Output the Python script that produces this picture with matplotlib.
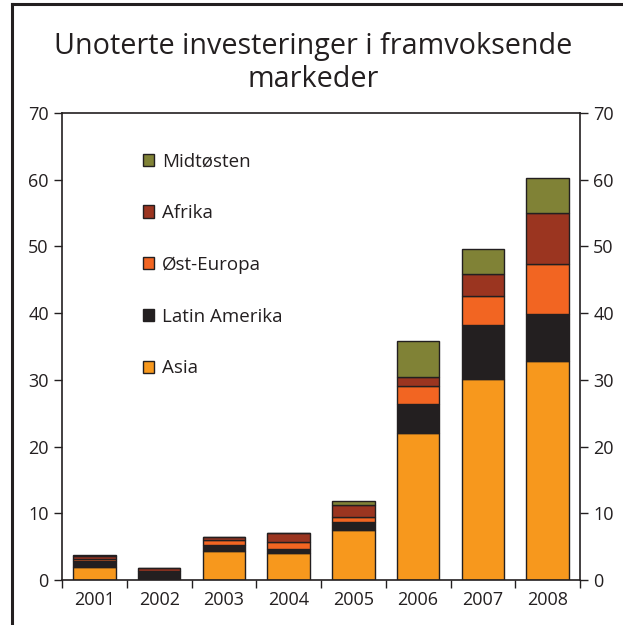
import matplotlib
matplotlib.use("Agg")
import matplotlib.pyplot as plt
import numpy as np
from matplotlib.patches import Patch
from matplotlib.lines import Line2D

years = ["2001", "2002", "2003", "2004", "2005", "2006", "2007", "2008"]
asia = [2.0, 0.05, 4.3, 4.05, 7.45, 22.1, 30.1, 32.8]
latin_amerika = [0.9, 1.3, 0.9, 0.6, 1.25, 4.3, 8.1, 7.0]
ost_europa = [0.2, 0.05, 0.75, 1.0, 0.7, 2.7, 4.4, 7.6]
afrika = [0.55, 0.45, 0.5, 1.4, 1.9, 1.3, 3.3, 7.6]
midtosten = [0.05, 0.0, 0.05, 0.0, 0.55, 5.4, 3.7, 5.2]

series = [
    ("Asia", asia, "#F7981D"),
    ("Latin Amerika", latin_amerika, "#231F20"),
    ("Øst-Europa", ost_europa, "#F26522"),
    ("Afrika", afrika, "#9B3520"),
    ("Midtøsten", midtosten, "#808236"),
]

plt.rcParams['font.family'] = ['Open Sans', 'DejaVu Sans']

fig = plt.figure(figsize=(6.23, 6.25), dpi=100)
ax = fig.add_axes([62/623, 1-580/625, (580-62)/623, (580-113)/625])

x = np.arange(len(years))
bottom = np.zeros(len(years))
handles = []
for name, vals, col in series:
    v = np.array(vals)
    ax.bar(x, v, bottom=bottom, width=0.66, color=col, edgecolor="#231F20", linewidth=1.0)
    bottom += v
    handles.append(Patch(facecolor=col, edgecolor="#231F20", linewidth=1.0, label=name))

ax.set_xlim(-0.5, len(years) - 0.5)
ax.set_ylim(0, 70)
ax.set_yticks(np.arange(0, 71, 10))
ax.set_xticks(x)
ax.set_xticklabels(years)
ax.set_xticks(np.arange(-0.5, len(years), 1.0), minor=True)
ax.tick_params(axis='x', which='major', length=0, labelsize=13, pad=8, colors="#231F20")
ax.tick_params(axis='x', which='minor', length=6, width=1, direction='out', color="#231F20")
ax.tick_params(axis='y', which='major', length=6, width=1, direction='out', labelsize=13,
               left=True, right=True, labelleft=True, labelright=True, colors="#231F20")
for s in ax.spines.values():
    s.set_color("#231F20")
    s.set_linewidth(1.2)

leg = ax.legend(handles=handles[::-1], loc='upper left', bbox_to_anchor=(0.123, 0.952),
                frameon=False, fontsize=13.5, labelspacing=1.8, handlelength=0.62,
                handleheight=0.62, handletextpad=0.4)
for t in leg.get_texts():
    t.set_color("#231F20")

fig.text(0.503, 1-63/625, "Unoterte investeringer i framvoksende\nmarkeder", ha='center', va='center',
         fontsize=20.7, color="#231F20", linespacing=1.17)

fig.add_artist(Line2D([12/623, 1.0], [1-4/625, 1-4/625], color="#231F20", linewidth=2.2))
fig.add_artist(Line2D([12/623, 12/623], [0.0, 1-4/625], color="#231F20", linewidth=2.2))

fig.savefig("out.png", dpi=100)
